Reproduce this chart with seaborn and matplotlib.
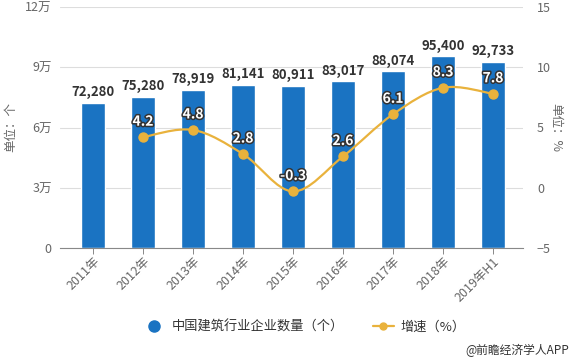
import numpy as np
import pandas as pd
import matplotlib
matplotlib.use("Agg")
import matplotlib.pyplot as plt
import matplotlib.patheffects as pe
from matplotlib.path import Path
from matplotlib.patches import PathPatch
from matplotlib.lines import Line2D
import seaborn as sns

years = ["2011年", "2012年", "2013年", "2014年", "2015年", "2016年", "2017年", "2018年", "2019年H1"]
companies = [72280, 75280, 78919, 81141, 80911, 83017, 88074, 95400, 92733]
growth_years = ["2012年", "2013年", "2014年", "2015年", "2016年", "2017年", "2018年", "2019年H1"]
growth = [4.2, 4.8, 2.8, -0.3, 2.6, 6.1, 8.3, 7.8]
left_ticks = [0, 30000, 60000, 90000, 120000]
left_labels = ["0", "3万", "6万", "9万", "12万"]
right_ticks = [-5, 0, 5, 10, 15]

BAR = "#1a73c2"
LINE = "#e9b23c"
GREY = "#666666"

sns.set_theme(style="white")
plt.rcParams["font.family"] = ["Noto Sans CJK SC", "DejaVu Sans"]

fig = plt.figure(figsize=(5.75, 3.59), dpi=100)
ax = fig.add_axes([60 / 575, 1 - 248 / 359, 463 / 575, 241 / 359])

df = pd.DataFrame({"year": years, "count": companies})
sns.barplot(data=df, x="year", y="count", color=BAR, saturation=1, width=0.48, ax=ax)
ax.set_xlim(-0.66, 8.6)
ax.set_ylim(0, 120000)
ax.set_yticks(left_ticks)
ax.set_yticklabels(left_labels)
ax.yaxis.grid(True, color="#dddddd", linewidth=0.8)
ax.set_axisbelow(True)
for s in ["top", "right", "left"]:
    ax.spines[s].set_visible(False)
ax.spines["bottom"].set_color("#888888")
ax.spines["bottom"].set_linewidth(0.8)
ax.tick_params(axis="y", length=0, labelsize=9, colors=GREY, pad=6)
ax.tick_params(axis="x", length=4, width=0.7, color="#888888", labelsize=9, labelcolor=GREY, pad=1, bottom=True)
plt.setp(ax.get_xticklabels(), rotation=45, ha="right", rotation_mode="anchor")
ax.set_xlabel("")
ax.set_ylabel("单位：个", fontsize=9, color=GREY, labelpad=6)

for i, v in enumerate(companies):
    ax.text(i, v + 1800, f"{v:,}", ha="center", va="bottom", fontsize=9.5, fontweight="bold", color="#333333")

ax2 = ax.twinx()
ax2.set_ylim(-5, 15)
ax2.set_yticks(right_ticks)
ax2.tick_params(axis="y", length=0, labelsize=9, colors=GREY, pad=10)
for s in ax2.spines.values():
    s.set_visible(False)
ax2.grid(False)
ax2.set_ylabel("单位：%", fontsize=9, color=GREY, rotation=-90, labelpad=8)

# smooth line through growth points (Catmull-Rom as Bezier segments)
xs = np.array([years.index(y) for y in growth_years], dtype=float)
ys = np.array(growth, dtype=float)
pts = np.column_stack([xs, ys])
verts = [tuple(pts[0])]
codes = [Path.MOVETO]
for k in range(len(pts) - 1):
    p0 = pts[max(k - 1, 0)]
    p1 = pts[k]
    p2 = pts[k + 1]
    p3 = pts[min(k + 2, len(pts) - 1)]
    c1 = p1 + (p2 - p0) / 6
    c2 = p2 - (p3 - p1) / 6
    verts += [tuple(c1), tuple(c2), tuple(p2)]
    codes += [Path.CURVE4] * 3
ax2.add_patch(PathPatch(Path(verts, codes), facecolor="none", edgecolor=LINE, linewidth=1.6, zorder=3))
ax2.scatter(xs, ys, s=42, color=LINE, edgecolor=LINE, zorder=4)

for x, y in zip(xs, ys):
    t = ax2.text(x, y + 0.7, f"{y:g}", ha="center", va="bottom", fontsize=10, fontweight="bold", color="white", zorder=5)
    t.set_path_effects([pe.withStroke(linewidth=2.2, foreground="#333333")])

handles = [
    Line2D([], [], marker="o", linestyle="none", markersize=8, color=BAR),
    Line2D([], [], marker="o", linestyle="-", markersize=5, color=LINE, linewidth=1.6),
]
fig.legend(handles, ["中国建筑行业企业数量（个）", "增速（%）"], loc="center", bbox_to_anchor=(0.53, 1 - 327 / 359),
           ncol=2, frameon=False, fontsize=9.5, handlelength=1.6, handletextpad=0.5, columnspacing=2.2,
           labelcolor="#333333")

fig.text(0.99, 1 - 350 / 359, "@前瞻经济学人APP", ha="right", va="center", fontsize=8.5, color="#333333")

fig.savefig("out.png", dpi=100)
